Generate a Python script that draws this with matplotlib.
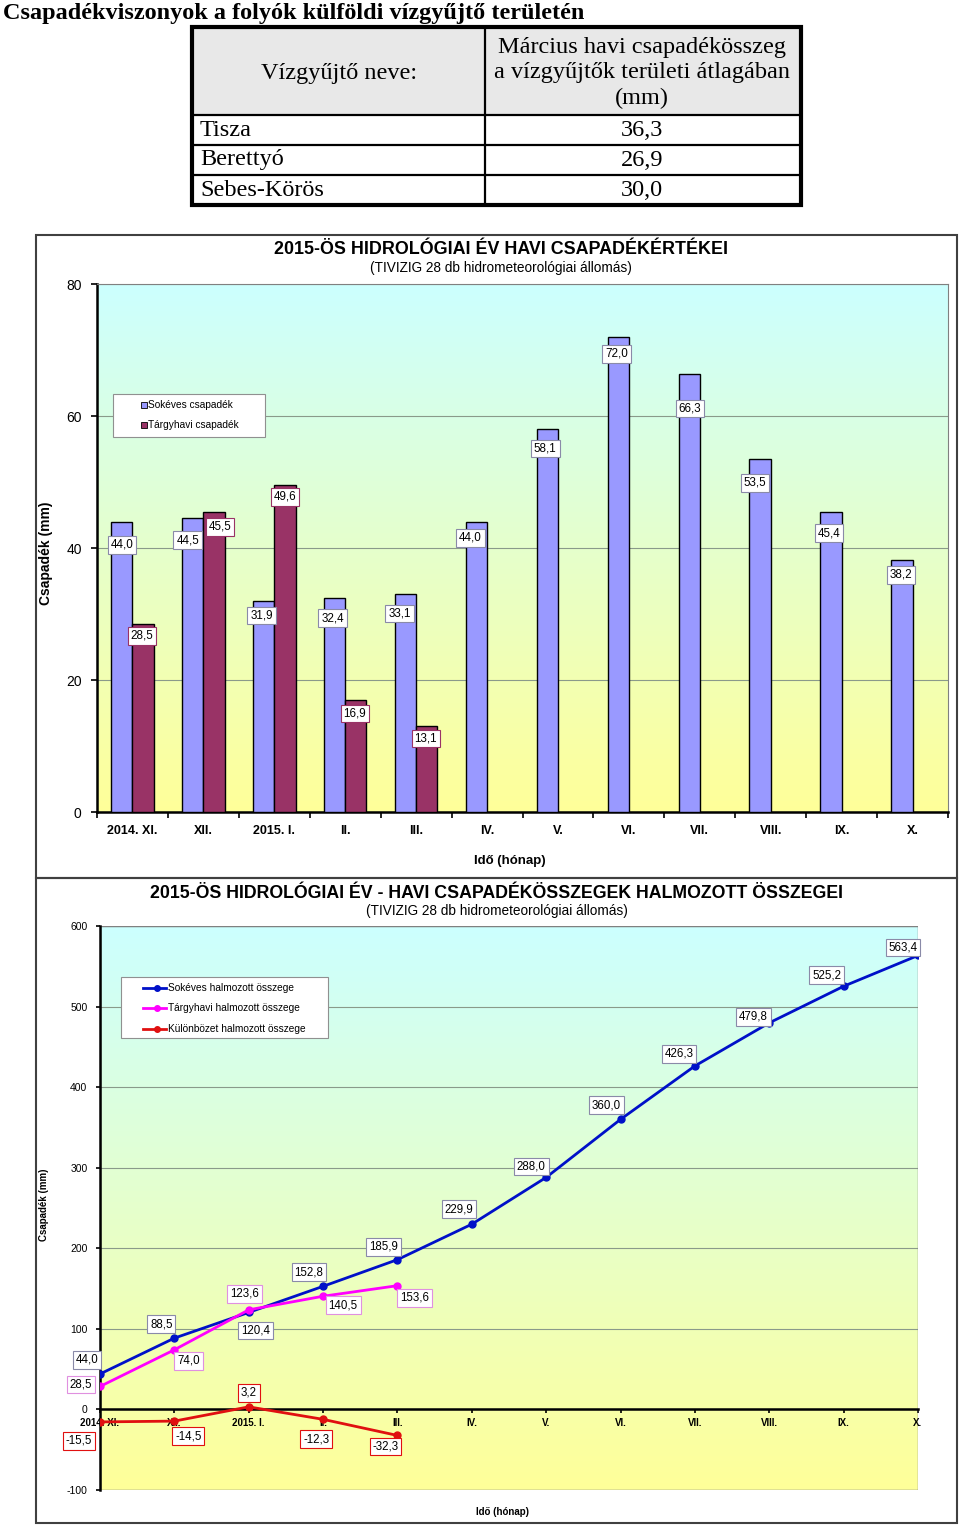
import matplotlib
matplotlib.use('Agg')
import matplotlib.pyplot as plt
import numpy as np
from matplotlib.colors import LinearSegmentedColormap
from matplotlib.patches import Rectangle
from matplotlib.lines import Line2D

plt.rcParams['font.family'] = ['Liberation Sans', 'DejaVu Sans']
plt.rcParams['axes.unicode_minus'] = False

# --- data ---
table_head = ['Vízgyűjtő neve:',
              'Március havi csapadékösszeg\na vízgyűjtők területi átlagában\n(mm)']
basins = ['Tisza', 'Berettyó', 'Sebes-Körös']
march_sum = [36.3, 26.9, 30.0]

months = ['2014. XI.', 'XII.', '2015. I.', 'II.', 'III.', 'IV.', 'V.', 'VI.',
          'VII.', 'VIII.', 'IX.', 'X.']
longterm = [44.0, 44.5, 31.9, 32.4, 33.1, 44.0, 58.1, 72.0, 66.3, 53.5, 45.4, 38.2]
current = [28.5, 45.5, 49.6, 16.9, 13.1]

longterm_cum = [44.0, 88.5, 120.4, 152.8, 185.9, 229.9, 288.0, 360.0, 426.3,
                479.8, 525.2, 563.4]
current_cum = [28.5, 74.0, 123.6, 140.5, 153.6]
diff_cum = [-15.5, -14.5, 3.2, -12.3, -32.3]

# label offsets in pixels (dx, dy downwards)
lt_off = [(0, 23), (-5, 22), (-2, 14), (-2, 20), (-6, 20), (-6, 16), (-2, 20),
          (-2, 17), (1, 34), (-5, 24), (-2, 21), (-1, 15)]
cur_off = [(-1, 12), (6, 15), (0, 12), (-1, 13), (-1, 13)]
ltc_off = [(-13, -14), (-13, -14), (7, 18), (-14, -14), (-14, -13), (-13, -15),
           (-15, -11), (-14, -14), (-16, -12), (-16, -6), (-17, -11), (-15, -8)]
curc_off = [(-19, -2), (14, 11), (-4, -16), (20, 9), (17, 12)]
diff_off = [(-21, 19), (14, 15), (0, -14), (-7, 20), (-12, 11)]

W, H = 960, 1528


def fx(px):
    return px / W


def fy(py):
    return 1 - py / H


def fmt(v):
    return '{:.1f}'.format(v).replace('.', ',')


fig = plt.figure(figsize=(W / 100, H / 100), dpi=100)
fig.set_facecolor('white')

# --- page title ---
fig.text(fx(3), fy(13), 'Csapadékviszonyok a folyók külföldi vízgyűjtő területén',
         family='Liberation Serif', fontweight='bold', fontsize=17.5,
         ha='left', va='center')

# --- table ---
tax = fig.add_axes([fx(192), fy(205), (801 - 192) / W, (205 - 27) / H])
tax.set_xlim(192, 801)
tax.set_ylim(205, 27)
tax.axis('off')
tax.add_patch(Rectangle((192, 27), 609, 88, fc='#e8e8e8', ec='none'))
rows = [27, 115, 145, 175, 205]
for r in rows[1:-1]:
    tax.plot([192, 801], [r, r], color='black', lw=1.6)
tax.plot([485, 485], [27, 205], color='black', lw=1.6)
tax.add_patch(Rectangle((192, 27), 609, 178, fill=False, ec='black', lw=3,
                        clip_on=False))
serif = 'Liberation Serif'
tax.text(339, 73, table_head[0], family=serif, fontsize=17.5, ha='center', va='center')
tax.text(642, 73, table_head[1], family=serif, fontsize=17.5, ha='center',
         va='center', linespacing=1.25)
for i, (name, val) in enumerate(zip(basins, march_sum)):
    yc = (rows[i + 1] + rows[i + 2]) / 2
    tax.text(200, yc, name, family=serif, fontsize=17.5, ha='left', va='center')
    tax.text(642, yc, fmt(val), family=serif, fontsize=17.5, ha='center', va='center')

# --- chart frames ---
for top, bot in [(235, 878), (878, 1523)]:
    fig.add_artist(Rectangle((fx(36), fy(bot)), (957 - 36) / W, (bot - top) / H,
                             transform=fig.transFigure, fill=False,
                             ec='#404040', lw=1.5))

bg = LinearSegmentedColormap.from_list('bg', ['#ffff99', '#ccffff'])
grad = np.linspace(0, 1, 256).reshape(-1, 1)


def legend_box(x0, y0, x1, y1, entries, kind):
    fig.add_artist(Rectangle((fx(x0), fy(y1)), (x1 - x0) / W, (y1 - y0) / H,
                             transform=fig.transFigure, fc='white',
                             ec='#909090', lw=0.8, zorder=6))
    for yy, color, label, hx, tx in entries:
        if kind == 'square':
            fig.add_artist(Line2D([fx(hx)], [fy(yy)], transform=fig.transFigure,
                                  marker='s', ms=5, mfc=color, mec='black',
                                  mew=0.6, ls='none', zorder=7))
        else:
            fig.add_artist(Line2D([fx(hx[0]), fx(hx[1])], [fy(yy), fy(yy)],
                                  transform=fig.transFigure, color=color, lw=2,
                                  zorder=7))
            fig.add_artist(Line2D([fx((hx[0] + hx[1]) / 2 + 2)], [fy(yy)],
                                  transform=fig.transFigure, marker='o', ms=4,
                                  color=color, ls='none', zorder=7))
        fig.text(fx(tx), fy(yy), label, fontsize=7.3, ha='left', va='center',
                 zorder=8)


# --- chart 1: monthly bars ---
ax1 = fig.add_axes([fx(97), fy(812), (948 - 97) / W, (812 - 284) / H])
ax1.imshow(grad, cmap=bg, extent=[0, 1, 0, 1], transform=ax1.transAxes,
           aspect='auto', origin='lower', zorder=0)
x = np.arange(len(months))
xc = np.arange(len(current))
ax1.bar(x - 0.15, longterm, 0.3, color='#9999ff', edgecolor='black', lw=1.0, zorder=3)
ax1.bar(xc + 0.15, current, 0.3, color='#993366', edgecolor='black', lw=1.0, zorder=3)
ax1.set_xlim(-0.5, 11.5)
ax1.set_ylim(0, 80)
ax1.set_yticks([0, 20, 40, 60, 80])
ax1.set_axisbelow(True)
ax1.yaxis.grid(True, color='#8a9a8a', lw=0.8)
ax1.tick_params(axis='y', labelsize=10, length=4, pad=7, width=1.2)
ax1.set_xticks(np.arange(-0.5, 12, 1))
ax1.set_xticklabels([])
ax1.set_xticks(x, minor=True)
ax1.set_xticklabels(months, minor=True, fontweight='bold', fontsize=9)
ax1.tick_params(axis='x', which='major', length=4, width=1.2)
ax1.tick_params(axis='x', which='minor', length=0, pad=9)
for s in ['left', 'bottom']:
    ax1.spines[s].set_linewidth(1.8)
for s in ['top', 'right']:
    ax1.spines[s].set_color('#808080')
    ax1.spines[s].set_linewidth(0.8)

for vals, pos, offs, ec in [(longterm, x - 0.15, lt_off, '#8a8aa8'),
                            (current, xc + 0.15, cur_off, '#993366')]:
    for i, v in enumerate(vals):
        dx, dy = offs[i]
        ax1.annotate(fmt(v), (pos[i], v), xytext=(dx, -dy), textcoords='offset pixels',
                     ha='center', va='center', fontsize=8.4, zorder=5,
                     bbox=dict(boxstyle='square,pad=0.25', fc='white', ec=ec, lw=0.8))

fig.text(fx(501), fy(249), '2015-ÖS HIDROLÓGIAI ÉV HAVI CSAPADÉKÉRTÉKEI',
         fontweight='bold', fontsize=12.9, ha='center', va='center')
fig.text(fx(501), fy(268), '(TIVIZIG 28 db hidrometeorológiai állomás)',
         fontsize=9.8, ha='center', va='center')
fig.text(fx(46), fy(553), 'Csapadék (mm)', fontweight='bold', fontsize=10,
         rotation=90, ha='center', va='center')
fig.text(fx(510), fy(861), 'Idő (hónap)', fontweight='bold', fontsize=9.5,
         ha='center', va='center')
legend_box(113, 394, 265, 437,
           [(405, '#9999ff', 'Sokéves csapadék', 144, 148),
            (425, '#993366', 'Tárgyhavi csapadék', 144, 148)], 'square')

# --- chart 2: cumulative sums ---
ax2 = fig.add_axes([fx(100), fy(1490), (918 - 100) / W, (1490 - 926) / H])
ax2.spines['bottom'].set_position(('data', 0))
ax2.spines['bottom'].set_linewidth(1.8)
ax2.spines['left'].set_linewidth(1.8)
ax2.spines['top'].set_visible(False)
ax2.spines['right'].set_visible(False)
ax2.imshow(grad, cmap=bg, extent=[0, 1, 0, 1], transform=ax2.transAxes,
           aspect='auto', origin='lower', zorder=0)
ax2.add_patch(Rectangle((0, 0), 1, 1, transform=ax2.transAxes, fill=False,
                        ec='#808080', lw=1, zorder=1))
ax2.plot(x, longterm_cum, color='#0010c8', lw=2, marker='o', ms=5, zorder=4)
ax2.plot(xc, current_cum, color='#ff00ff', lw=2, marker='o', ms=5, zorder=4)
ax2.plot(xc, diff_cum, color='#e01010', lw=2, marker='o', ms=5, zorder=4)
ax2.set_xlim(0, 11)
ax2.set_ylim(-100, 600)
ax2.set_yticks(np.arange(-100, 601, 100))
ax2.set_axisbelow(True)
ax2.yaxis.grid(True, color='#8a9a8a', lw=0.8)
ax2.set_xticks(x)
ax2.set_xticklabels(months, fontweight='bold', fontsize=7)
ax2.tick_params(axis='x', length=3, width=1.2, pad=3)
ax2.tick_params(axis='y', labelsize=7.5, length=3, width=1.2, pad=6)

series = [(longterm_cum, ltc_off, '#8a8aa8'),
          (current_cum, curc_off, '#e090e0'),
          (diff_cum, diff_off, '#e01010')]
for vals, offs, ec in series:
    for i, v in enumerate(vals):
        dx, dy = offs[i]
        ax2.annotate(fmt(v), (x[i], v), xytext=(dx, -dy), textcoords='offset pixels',
                     ha='center', va='center', fontsize=8.3, zorder=6,
                     bbox=dict(boxstyle='square,pad=0.25', fc='white', ec=ec, lw=0.8))

fig.text(fx(497), fy(893), '2015-ÖS HIDROLÓGIAI ÉV - HAVI CSAPADÉKÖSSZEGEK HALMOZOTT ÖSSZEGEI',
         fontweight='bold', fontsize=12.8, ha='center', va='center')
fig.text(fx(497), fy(911), '(TIVIZIG 28 db hidrometeorológiai állomás)',
         fontsize=9.8, ha='center', va='center')
fig.text(fx(44), fy(1205), 'Csapadék (mm)', fontweight='bold', fontsize=7,
         rotation=90, ha='center', va='center')
fig.text(fx(502), fy(1512), 'Idő (hónap)', fontweight='bold', fontsize=7,
         ha='center', va='center')
legend_box(121, 977, 328, 1038,
           [(988, '#0010c8', 'Sokéves halmozott összege', (143, 166), 168),
            (1008, '#ff00ff', 'Tárgyhavi halmozott összege', (143, 166), 168),
            (1029, '#e01010', 'Különbözet halmozott összege', (143, 166), 168)], 'line')

fig.savefig('out.png', dpi=100)
